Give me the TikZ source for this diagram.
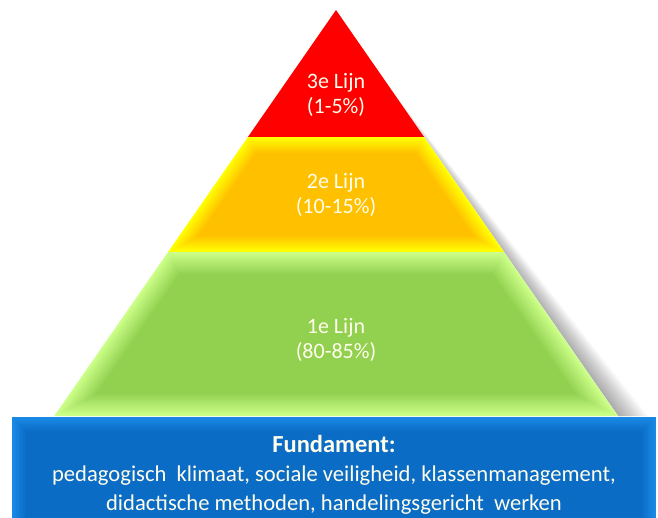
\documentclass[tikz,border=0pt]{standalone}
\usepackage{fontspec}
\setmainfont{Carlito}
\usetikzlibrary{calc}
\definecolor{redband}{HTML}{FF0000}
\definecolor{yedge}{HTML}{FFFF00}
\definecolor{ymid}{HTML}{FFC000}
\definecolor{gedge}{HTML}{CCFF88}
\definecolor{gmid}{HTML}{92D050}
\definecolor{bedge}{HTML}{1A8AE6}
\definecolor{bmid}{HTML}{0A6CC4}
\definecolor{txtw}{HTML}{FFFDEC}
\tikzset{
  bandtext/.style={text=txtw, align=center, anchor=base, inner sep=0pt, font=\fontsize{22}{25}\selectfont},
  basetext/.style={text=txtw, align=center, anchor=base, inner sep=0pt, font=\fontsize{22.6}{29}\selectfont},
}
% left/right edges of pyramid: x = 336 -/+ 0.694*(y-10)
\newcommand\bandbevel[5]{%
  \foreach \k in {0,...,12}{%
    \pgfmathsetmacro\dd{#5*\k/12}%
    \pgfmathtruncatemacro\mixv{min(100,\k*100/12)}%
    \pgfmathsetmacro\yt{#1+\dd}%
    \pgfmathsetmacro\yb{#2-\dd}%
    \pgfmathsetmacro\xtl{336-0.694*(\yt-10)+1.217*\dd}%
    \pgfmathsetmacro\xtr{336+0.694*(\yt-10)-1.217*\dd}%
    \pgfmathsetmacro\xbl{336-0.694*(\yb-10)+1.217*\dd}%
    \pgfmathsetmacro\xbr{336+0.694*(\yb-10)-1.217*\dd}%
    \fill[#4!\mixv!#3] (\xtl,\yt) -- (\xtr,\yt) -- (\xbr,\yb) -- (\xbl,\yb) -- cycle;
  }%
}
\begin{document}
\begin{tikzpicture}[x=1pt,y=-1pt]
\useasboundingbox (0,0) rectangle (658,517);
\fill[white] (0,0) rectangle (658,517);
% shadow to the right of the pyramid
\foreach \w in {2,4,...,30}{
  \fill[black,opacity=0.022] (336,20) -- (618+\w,416) -- (618,416) -- cycle;
}
\fill[white] (336,10) -- (618,416) -- (54,416) -- cycle;
% red top
\coordinate (apex) at (336,10);
\fill[redband] (apex) -- (424.1,137) -- (247.9,137) -- cycle;
% yellow / orange band
\bandbevel{137}{252}{yedge}{ymid}{16}
% green band
\bandbevel{252}{416}{gedge}{gmid}{22}
% blue base with bevel
\foreach \k in {0,...,10}{
  \pgfmathsetmacro\dd{14*\k/10}
  \pgfmathtruncatemacro\mixv{\k*10}
  \fill[bmid!\mixv!bedge] (12+\dd,417+\dd) rectangle (656-\dd,530);
}
% texts (anchor base = baseline of the last line)
\node[bandtext] (t3) at (336,113) {3e Lijn\\(1-5\%)};
\node[bandtext] (t2) at (336,213) {2e Lijn\\(10-15\%)};
\node[bandtext] (t1) at (336,358) {1e Lijn\\(80-85\%)};
\node[basetext] (tb) at (334,510) {{\fontsize{24.5}{29}\selectfont\bfseries Fundament:}\\pedagogisch\ \ klimaat, sociale veiligheid, klassenmanagement,\\didactische methoden, handelingsgericht\ \ werken};
\end{tikzpicture}
\end{document}
